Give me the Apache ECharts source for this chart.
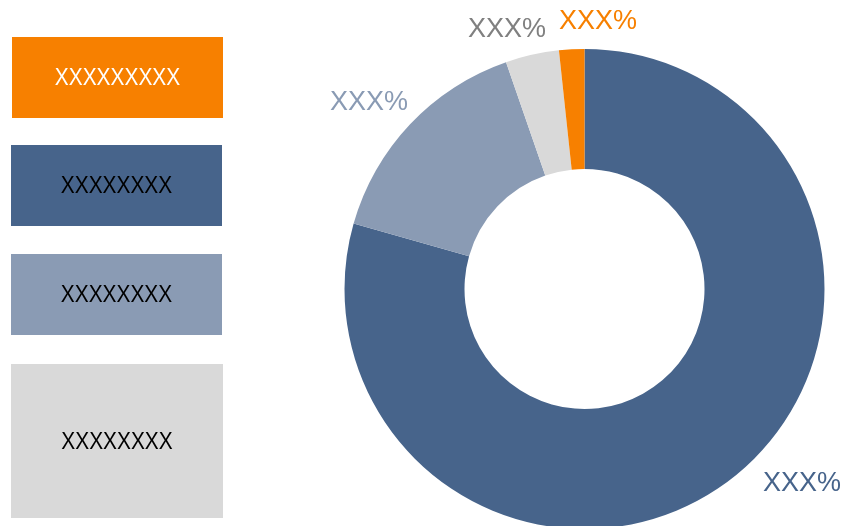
<!DOCTYPE html>
<html>
<head>
<meta charset="utf-8">
<script src="https://cdn.jsdelivr.net/npm/echarts@6/dist/echarts.min.js"></script>
<style>html,body{margin:0;padding:0;background:#fff;}#c{width:841px;height:526px;}</style>
</head>
<body>
<div id="c"></div>
<script>
// ---- data ----
const categories = ['XXXXXXXX', 'XXXXXXXX', 'XXXXXXXX', 'XXXXXXXXX'];
const values = [79.4, 15.3, 3.6, 1.7];
const sliceLabels = ['XXX%', 'XXX%', 'XXX%', 'XXX%'];
const legendNames = ['XXXXXXXXX', 'XXXXXXXX', 'XXXXXXXX', 'XXXXXXXX'];

// ---- styles / layout ----
const sliceColors = ['#47648B', '#8A9BB4', '#D9D9D9', '#F78000'];
const labelColors = ['#47648B', '#8A9BB4', '#808080', '#F78000'];
const labelPos = [[802, 484], [369, 103], [507, 30], [598, 22]];
const boxColors = ['#F78000', '#47648B', '#8A9BB4', '#D9D9D9'];
const boxTextColors = ['#FFFFFF', '#000000', '#000000', '#000000'];
const boxes = [[12, 37, 211, 81], [11, 145, 211, 81], [11, 254, 211, 81], [11, 364, 212, 154]];

const chart = echarts.init(document.getElementById('c'), null, {renderer: 'canvas'});

const graphics = [];
boxes.forEach((b, i) => {
  graphics.push({
    type: 'rect', left: b[0], top: b[1],
    shape: {width: b[2], height: b[3]},
    style: {fill: boxColors[i]}
  });
  graphics.push({
    type: 'text', x: b[0] + b[2] / 2, y: b[1] + b[3] / 2 + 1,
    scaleX: 0.87, originX: 0, originY: 0,
    style: {
      text: legendNames[i], fill: boxTextColors[i],
      font: '24px "Liberation Sans", Arial, sans-serif',
      textAlign: 'center', textVerticalAlign: 'middle'
    }
  });
});

chart.setOption({
  animation: false,
  backgroundColor: '#fff',
  graphic: graphics,
  series: [{
    type: 'pie',
    center: [584.5, 289],
    radius: [120, 240],
    startAngle: 90,
    clockwise: true,
    avoidLabelOverlap: false,
    itemStyle: {borderWidth: 0},
    emphasis: {disabled: true},
    label: {
      show: true, position: 'outside',
      fontSize: 27, fontFamily: '"Liberation Sans", Arial, sans-serif',
      formatter: p => sliceLabels[p.dataIndex]
    },
    labelLine: {show: false},
    labelLayout: p => ({
      x: labelPos[p.dataIndex][0], y: labelPos[p.dataIndex][1],
      align: 'center', verticalAlign: 'middle'
    }),
    data: categories.map((c, i) => ({
      name: c + i, value: values[i],
      itemStyle: {color: sliceColors[i]},
      label: {color: labelColors[i]}
    }))
  }]
});
</script>
</body>
</html>
